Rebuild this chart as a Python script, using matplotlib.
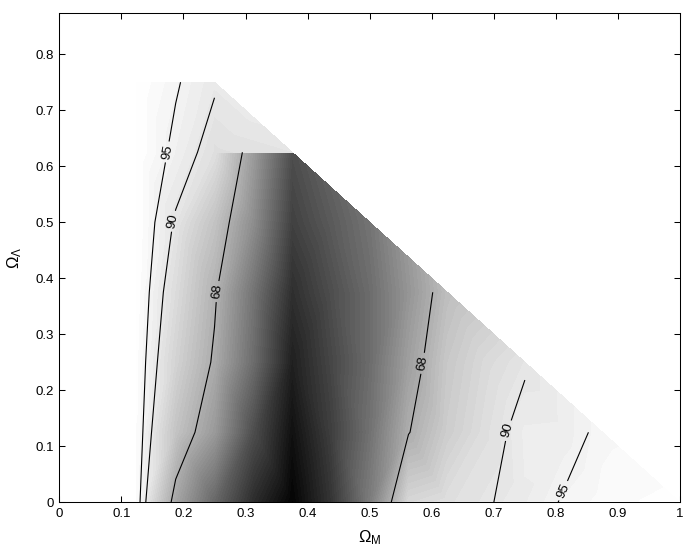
import numpy as np
import matplotlib
matplotlib.use("Agg")
import matplotlib.pyplot as plt
import matplotlib.tri as mtri
from matplotlib.colors import Normalize

plt.rcParams['font.family'] = ['Liberation Sans', 'DejaVu Sans']
plt.rcParams['mathtext.fontset'] = 'custom'
plt.rcParams['mathtext.rm'] = 'Liberation Sans'
plt.rcParams['mathtext.it'] = 'Liberation Sans:italic'

nan = np.nan

# scan grid
omega_m = np.array([0.125, 0.1875, 0.25, 0.3125, 0.375, 0.4375, 0.5, 0.5625,
                    0.625, 0.6875, 0.75, 0.8125, 0.875, 0.9375, 1.0])
omega_l = np.array([0.0, 0.125, 0.25, 0.375, 0.5, 0.625, 0.75])

# confidence level (%), rows = omega_l, cols = omega_m, nan where omega_m + omega_l > 1
conf = np.array([
    [97.7, 64.0, 40.0, 17.0,  1.0, 20.0, 48.0, 84.0, 87.0, 89.5, 92.0, 95.5, 97.5, 98.5, 99.0],
    [98.4, 76.1, 59.8, 30.0,  6.0, 24.0, 44.0, 67.5, 80.0, 87.0, 92.5, 92.7, 96.3, nan, nan],
    [98.7, 82.2, 66.5, 42.0, 12.0, 27.0, 42.0, 62.0, 78.0, 85.0, 89.15, nan, nan, nan, nan],
    [99.4, 85.6, 69.5, 45.0, 18.0, 30.0, 42.0, 58.0, 74.0, nan, nan, nan, nan, nan, nan],
    [100.0, 89.2, 76.0, 55.0, 25.0, 35.0, 45.0, nan, nan, nan, nan, nan, nan, nan, nan],
    [100.0, 93.6, 87.2, 60.5, 30.0, nan, nan, nan, nan, nan, nan, nan, nan, nan, nan],
    [100.0, 95.6, 90.8, nan, nan, nan, nan, nan, nan, nan, nan, nan, nan, nan, nan],
])

# top corner patch (drawn separately in the original)
cap_m = [0.25, 0.3125, 0.375, 0.25, 0.3125]
cap_l = [0.625, 0.625, 0.625, 0.75, 0.6875]
cap_conf = [87.0, 88.0, 89.0, 91.0, 91.0]

levels_cl = [68, 90, 95]
label_pos = [(0.171, 0.626), (0.187, 0.501), (0.256, 0.376),
             (0.586, 0.248), (0.720, 0.129), (0.809, 0.022)]

xticks = [0, 0.1, 0.2, 0.3, 0.4, 0.5, 0.6, 0.7, 0.8, 0.9, 1.0]
xticklabels = ['0', '0.1', '0.2', '0.3', '0.4', '0.5', '0.6', '0.7', '0.8', '0.9', '1']
yticks = [0, 0.1, 0.2, 0.3, 0.4, 0.5, 0.6, 0.7, 0.8]
yticklabels = ['0', '0.1', '0.2', '0.3', '0.4', '0.5', '0.6', '0.7', '0.8']

fig = plt.figure(figsize=(6.89, 5.54), dpi=100)
ax = fig.add_axes([0.0861, 0.0933, 0.9009, 0.8827])

shade_levels = np.linspace(0, 100, 65)
norm = Normalize(vmin=0, vmax=100)

MM, LL = np.meshgrid(omega_m, omega_l)
ok = np.isfinite(conf)
tri = mtri.Triangulation(MM[ok], LL[ok])
cx = MM[ok][tri.triangles].mean(axis=1)
cy = LL[ok][tri.triangles].mean(axis=1)
tri.set_mask((cx > 0.25) & (cy > 0.625))
ax.tricontourf(tri, conf[ok], levels=shade_levels, cmap='gray', norm=norm, zorder=3)

cap_tri = mtri.Triangulation(cap_m, cap_l)
ax.tricontourf(cap_tri, cap_conf, levels=shade_levels, cmap='gray', norm=norm, zorder=3)

cs = ax.contour(omega_m, omega_l, np.ma.masked_invalid(conf), levels=levels_cl,
                colors='k', linewidths=0.8, corner_mask=False, zorder=4)
ax.clabel(cs, fmt='%d', fontsize=9.5, inline=True, manual=label_pos)

ax.set_xlim(0, 1)
ax.set_ylim(0, 0.873)
ax.set_xticks(xticks)
ax.set_xticklabels(xticklabels)
ax.set_yticks(yticks)
ax.set_yticklabels(yticklabels)
ax.tick_params(direction='in', top=True, right=True, length=4.5, width=0.75,
               labelsize=9.5, pad=4)
for s in ax.spines.values():
    s.set_linewidth(0.75)

ax.set_xlabel(r'$\mathrm{\Omega}_{\mathrm{M}}$', fontsize=12, labelpad=6)
ax.set_ylabel(r'$\mathrm{\Omega}_{\mathrm{\Lambda}}$', fontsize=12, labelpad=8)

fig.savefig('out.png', dpi=100)
